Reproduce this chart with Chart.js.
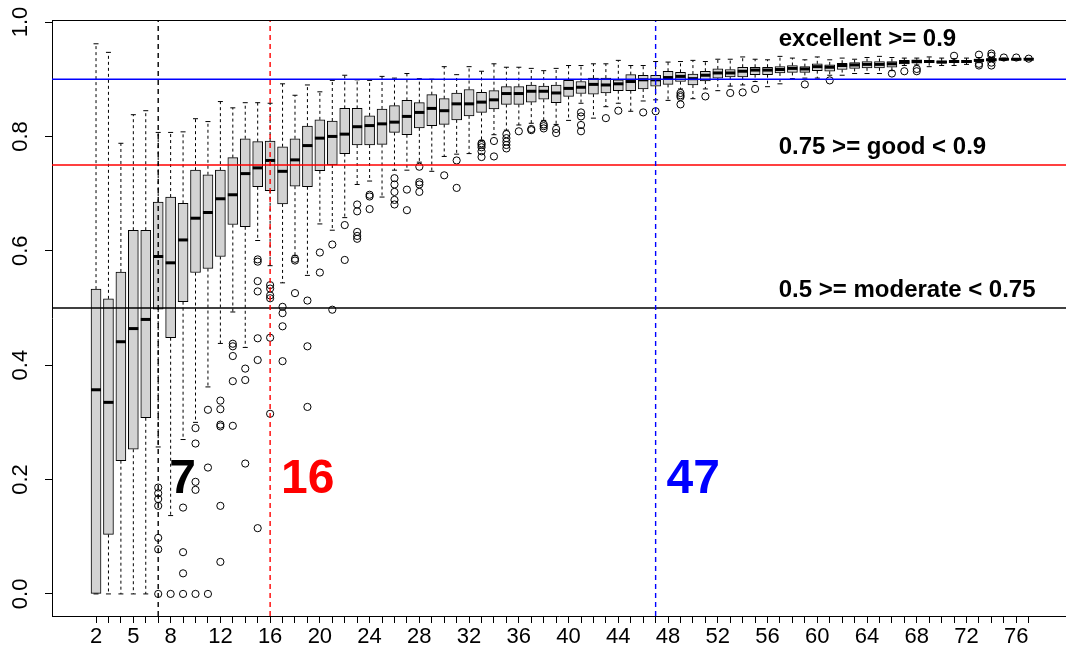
<!DOCTYPE html>
<html>
<head>
<meta charset="utf-8">
<title>Boxplot by group size</title>
<script src="https://cdn.jsdelivr.net/npm/chart.js@4.4.1/dist/chart.umd.min.js"></script>
<style>
    html, body { margin: 0; padding: 0; background: #fff; overflow: hidden; }
    #wrap { width: 1066px; height: 656px; overflow: hidden; }
</style>
</head>
<body>
<div id="wrap"><canvas id="boxChart" width="1074" height="656"></canvas></div>
<script>
// group sizes on the x axis (one box each)
const groupSizes = [2, 3, 4, 5, 6, 7, 8, 9, 10, 11, 12, 13, 14, 15, 16, 17, 18, 19, 20, 21,
    22, 23, 24, 25, 26, 27, 28, 29, 30, 31, 32, 33, 34, 35, 36, 37, 38, 39, 40, 41,
    42, 43, 44, 45, 46, 47, 48, 49, 50, 51, 52, 53, 54, 55, 56, 57, 58, 59, 60, 61,
    62, 63, 64, 65, 66, 67, 68, 69, 70, 71, 72, 73, 74, 75, 76, 77];

const lowerWhisker = [0, 0, 0, 0, 0, 0.257, 0.137, 0.270, 0.300, 0.362,
    0.438, 0.493, 0.431, 0.618, 0.574, 0.544, 0.592, 0.557, 0.647, 0.636,
    0.658, 0.716, 0.722, 0.694, 0.741, 0.741, 0.755, 0.739, 0.765, 0.769,
    0.770, 0.793, 0.803, 0.811, 0.820, 0.823, 0.828, 0.821, 0.828, 0.858,
    0.832, 0.852, 0.858, 0.844, 0.862, 0.864, 0.863, 0.883, 0.866, 0.883,
    0.880, 0.888, 0.890, 0.896, 0.887, 0.892, 0.901, 0.902, 0.902, 0.907,
    0.907, 0.910, 0.910, 0.910, 0.915, 0.924, 0.925, 0.922, 0.924, 0.924,
    0.926, 0.929, 0.931, 0.933, 0.934, 0.934];

const lowerQuartile = [0, 0.104, 0.233, 0.253, 0.308, 0.498, 0.448, 0.511, 0.562, 0.569,
    0.590, 0.646, 0.642, 0.712, 0.705, 0.682, 0.713, 0.712, 0.740, 0.750,
    0.770, 0.785, 0.785, 0.786, 0.807, 0.803, 0.815, 0.819, 0.821, 0.829,
    0.836, 0.842, 0.848, 0.856, 0.856, 0.860, 0.865, 0.859, 0.870, 0.875,
    0.874, 0.876, 0.880, 0.880, 0.883, 0.888, 0.891, 0.896, 0.890, 0.897,
    0.902, 0.904, 0.904, 0.908, 0.908, 0.911, 0.912, 0.912, 0.915, 0.914,
    0.917, 0.919, 0.920, 0.920, 0.921, 0.927, 0.928, 0.929, 0.928, 0.929,
    0.929, 0.931, 0.932, 0.934, 0.934, 0.935];

const medians = [0.357, 0.335, 0.441, 0.464, 0.480, 0.590, 0.579, 0.619, 0.657, 0.667,
    0.691, 0.698, 0.735, 0.745, 0.758, 0.739, 0.759, 0.784, 0.797, 0.800,
    0.804, 0.817, 0.819, 0.822, 0.825, 0.835, 0.842, 0.849, 0.845, 0.857,
    0.857, 0.860, 0.864, 0.875, 0.875, 0.879, 0.879, 0.876, 0.884, 0.886,
    0.891, 0.890, 0.892, 0.896, 0.899, 0.899, 0.903, 0.905, 0.901, 0.907,
    0.911, 0.911, 0.914, 0.916, 0.916, 0.917, 0.919, 0.918, 0.922, 0.921,
    0.924, 0.925, 0.926, 0.926, 0.927, 0.930, 0.931, 0.931, 0.930, 0.931,
    0.931, 0.933, 0.934, 0.935, 0.935, 0.935];

const upperQuartile = [0.533, 0.516, 0.563, 0.636, 0.636, 0.685, 0.694, 0.683, 0.741, 0.733,
    0.741, 0.763, 0.796, 0.791, 0.792, 0.782, 0.796, 0.818, 0.829, 0.827,
    0.849, 0.849, 0.836, 0.848, 0.854, 0.863, 0.859, 0.873, 0.866, 0.876,
    0.882, 0.877, 0.880, 0.887, 0.887, 0.890, 0.888, 0.890, 0.898, 0.896,
    0.902, 0.902, 0.899, 0.908, 0.907, 0.907, 0.914, 0.912, 0.909, 0.914,
    0.918, 0.917, 0.921, 0.921, 0.921, 0.922, 0.924, 0.922, 0.927, 0.925,
    0.928, 0.929, 0.931, 0.931, 0.931, 0.933, 0.934, 0.933, 0.932, 0.933,
    0.933, 0.935, 0.936, 0.936, 0.936, 0.936];

const upperWhisker = [0.962, 0.947, 0.788, 0.838, 0.845, 0.807, 0.807, 0.808, 0.831, 0.826,
    0.861, 0.850, 0.859, 0.859, 0.858, 0.892, 0.872, 0.890, 0.878, 0.898,
    0.907, 0.899, 0.898, 0.905, 0.902, 0.910, 0.901, 0.900, 0.922, 0.908,
    0.922, 0.914, 0.927, 0.921, 0.921, 0.919, 0.915, 0.919, 0.924, 0.924,
    0.927, 0.927, 0.933, 0.924, 0.924, 0.931, 0.930, 0.931, 0.933, 0.931,
    0.935, 0.935, 0.939, 0.935, 0.934, 0.940, 0.937, 0.934, 0.939, 0.934,
    0.937, 0.935, 0.938, 0.940, 0.938, 0.937, 0.937, 0.939, 0.937, 0.936,
    0.937, 0.938, 0.938, 0.937, 0.936, 0.936];

// outliers per group, same order as groupSizes
const outliers = [
    [], [], [], [], [],
    [0.186, 0.176, 0.166, 0.154, 0.098, 0.078, 0.0],
    [0.0],
    [0.151, 0.073, 0.036, 0.0],
    [0.290, 0.263, 0.196, 0.182, 0.0],
    [0.322, 0.221, 0.0],
    [0.338, 0.323, 0.296, 0.293, 0.154, 0.056],
    [0.4375, 0.433, 0.416, 0.372, 0.294],
    [0.394, 0.374, 0.228],
    [0.585, 0.581, 0.547, 0.529, 0.447, 0.409, 0.115],
    [0.540, 0.534, 0.522, 0.517, 0.448, 0.315],
    [0.502, 0.491, 0.468, 0.407],
    [0.586, 0.583, 0.526],
    [0.513, 0.433, 0.327],
    [0.597, 0.562],
    [0.611, 0.497],
    [0.645, 0.584],
    [0.681, 0.669, 0.633, 0.626, 0.621],
    [0.698, 0.695, 0.673],
    [],
    [0.727, 0.716, 0.703, 0.689, 0.681],
    [0.707, 0.671],
    [0.747, 0.720, 0.716, 0.703],
    [],
    [0.732],
    [0.758, 0.710],
    [],
    [0.788, 0.785, 0.781, 0.774, 0.764],
    [0.792, 0.765],
    [0.804, 0.797, 0.791, 0.785, 0.779],
    [0.809],
    [0.813, 0.811],
    [0.821, 0.818, 0.814],
    [0.813, 0.806],
    [],
    [0.842, 0.835, 0.820, 0.809],
    [],
    [0.832],
    [0.845],
    [],
    [0.842],
    [0.844],
    [],
    [0.876, 0.872, 0.869, 0.856],
    [],
    [0.870],
    [],
    [0.876],
    [0.877],
    [0.883],
    [], [], [],
    [0.891],
    [],
    [0.898],
    [], [], [], [],
    [0.910],
    [0.914],
    [0.918, 0.914],
    [], [],
    [0.941],
    [],
    [0.943, 0.927, 0.924],
    [0.945, 0.941, 0.929, 0.924],
    [0.938],
    [0.938],
    [0.936]
];

const xTickLabels = [2, 5, 8, 12, 16, 20, 24, 28, 32, 36, 40, 44, 48, 52, 56, 60, 64, 68, 72, 76];
const yTickValues = [0, 0.2, 0.4, 0.6, 0.8, 1.0];

// reliability bands
const levelValues = [0.5, 0.75, 0.9];
const levelColors = ['#000000', '#ff0000', '#0000ff'];
const levelTexts = ['0.5 >= moderate < 0.75', '0.75 >= good < 0.9', 'excellent >= 0.9'];
const levelTextY = [0.53, 0.78, 0.97];
const levelTextX = 56.9;

// cut-off group sizes
const cutoffs = [7, 16, 47];
const cutoffColors = ['#000000', '#ff0000', '#0000ff'];
const cutoffTextY = 0.2;

const xMin = -1.54, xMax = 80.0;
const yMin = -0.0386, yMax = 1.0036;
const FONT = '"Liberation Sans", Arial, Helvetica, sans-serif';

// build datasets from the arrays
const boxData = groupSizes.map((n, i) => ({ x: n, y: [lowerQuartile[i], upperQuartile[i]] }));
const medianData = groupSizes.map((n, i) => ({ x: n, y: medians[i] }));

const whiskerData = [];
const stapleData = [];
groupSizes.forEach((n, i) => {
    whiskerData.push({ x: n, y: upperQuartile[i] }, { x: n, y: upperWhisker[i] }, { x: n, y: null });
    whiskerData.push({ x: n, y: lowerQuartile[i] }, { x: n, y: lowerWhisker[i] }, { x: n, y: null });
    stapleData.push({ x: n, y: upperWhisker[i] }, { x: n, y: lowerWhisker[i] });
});

const outlierData = [];
groupSizes.forEach((n, i) => {
    outliers[i].forEach(v => outlierData.push({ x: n, y: v }));
});

const datasets = [
    {
        type: 'line', data: whiskerData, borderColor: '#000', borderWidth: 1,
        borderDash: [3, 3], pointRadius: 0, spanGaps: false, order: 9
    },
    {
        type: 'scatter', data: stapleData, pointStyle: 'line', pointRadius: 2.5,
        borderColor: '#000', pointBorderWidth: 1, order: 8
    },
    {
        type: 'bar', data: boxData, backgroundColor: '#d3d3d3', borderColor: '#000',
        borderWidth: 1, borderSkipped: false, barThickness: 10, order: 7
    },
    {
        type: 'scatter', data: medianData, pointStyle: 'line', pointRadius: 5,
        borderColor: '#000', pointBorderWidth: 3, order: 6
    },
    {
        type: 'scatter', data: outlierData, pointStyle: 'circle', pointRadius: 3.6,
        backgroundColor: 'rgba(0,0,0,0)', borderColor: '#000', pointBorderWidth: 1, order: 5
    }
];

levelValues.forEach((v, i) => {
    datasets.push({
        type: 'line', data: [{ x: xMin, y: v }, { x: xMax, y: v }],
        borderColor: levelColors[i], borderWidth: 1.4, pointRadius: 0, order: 2
    });
});

cutoffs.forEach((c, i) => {
    datasets.push({
        type: 'line', data: [{ x: c, y: yMin }, { x: c, y: yMax }],
        borderColor: cutoffColors[i], borderWidth: 1.4, borderDash: [5, 4], pointRadius: 0, order: 1
    });
});

const decorations = {
    id: 'decorations',
    beforeDraw(chart) {
        const ctx = chart.ctx;
        ctx.save();
        ctx.fillStyle = '#fff';
        ctx.fillRect(0, 0, chart.width, chart.height);
        ctx.restore();
    },
    afterDraw(chart) {
        const ctx = chart.ctx;
        const area = chart.chartArea;
        const xs = chart.scales.x, ys = chart.scales.y;
        ctx.save();

        // top frame line
        ctx.strokeStyle = '#000';
        ctx.lineWidth = 1;
        ctx.beginPath();
        ctx.moveTo(area.left, Math.round(area.top) + 0.5);
        ctx.lineTo(chart.width, Math.round(area.top) + 0.5);
        ctx.stroke();

        // rotated y tick labels, like R
        ctx.fillStyle = '#000';
        ctx.font = '22px ' + FONT;
        ctx.textAlign = 'center';
        ctx.textBaseline = 'middle';
        yTickValues.forEach(v => {
            ctx.save();
            ctx.translate(21, ys.getPixelForValue(v));
            ctx.rotate(-Math.PI / 2);
            ctx.fillText(v.toFixed(1), 0, 0);
            ctx.restore();
        });

        // band labels
        ctx.font = 'bold 24px ' + FONT;
        ctx.textAlign = 'left';
        levelTexts.forEach((t, i) => {
            ctx.fillText(t, xs.getPixelForValue(levelTextX), ys.getPixelForValue(levelTextY[i]));
        });

        // cut-off numbers
        ctx.font = 'bold 48px ' + FONT;
        cutoffs.forEach((c, i) => {
            ctx.fillStyle = cutoffColors[i];
            ctx.fillText(String(c), xs.getPixelForValue(c) + 11, ys.getPixelForValue(cutoffTextY));
        });
        ctx.restore();
    }
};

new Chart(document.getElementById('boxChart'), {
    type: 'bar',
    data: { datasets: datasets },
    options: {
        responsive: false,
        devicePixelRatio: 1,
        animation: false,
        events: [],
        layout: { padding: { top: 20, left: 0, right: 0, bottom: 0 } },
        plugins: { legend: { display: false }, tooltip: { enabled: false } },
        scales: {
            x: {
                type: 'linear',
                min: xMin,
                max: xMax,
                offset: false,
                afterBuildTicks: s => { s.ticks = groupSizes.map(v => ({ value: v })); },
                afterFit: s => { s.height = 40; },
                ticks: {
                    autoSkip: false,
                    maxRotation: 0,
                    minRotation: 0,
                    padding: 1,
                    color: '#000',
                    font: { family: FONT, size: 22 },
                    callback: v => xTickLabels.includes(v) ? String(v) : ''
                },
                grid: {
                    offset: false, drawOnChartArea: false, drawTicks: true,
                    tickLength: 7, tickColor: '#000', tickWidth: 1
                },
                border: { display: true, color: '#000', width: 1 }
            },
            y: {
                min: yMin,
                max: yMax,
                afterBuildTicks: s => { s.ticks = yTickValues.map(v => ({ value: v })); },
                afterFit: s => { s.width = 52; },
                ticks: { display: false },
                grid: {
                    drawOnChartArea: false, drawTicks: true,
                    tickLength: 7, tickColor: '#000', tickWidth: 1
                },
                border: { display: true, color: '#000', width: 1 }
            }
        }
    },
    plugins: [decorations]
});
</script>
</body>
</html>
